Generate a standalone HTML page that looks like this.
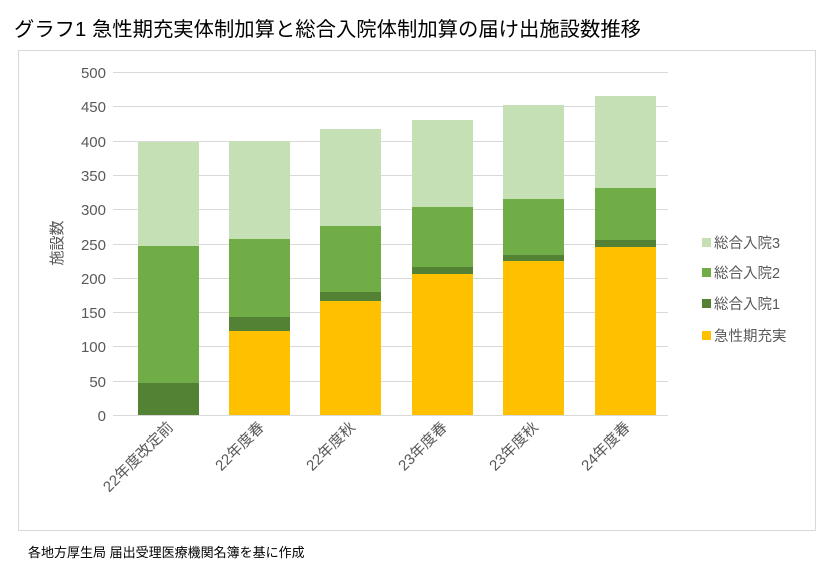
<!DOCTYPE html>
<html><head><meta charset="utf-8"><style>
body{margin:0;background:#fff;width:834px;height:569px;overflow:hidden;font-family:"Liberation Sans","Noto Sans CJK JP",sans-serif}
</style></head><body>
<svg width="834" height="569" xmlns="http://www.w3.org/2000/svg" font-family="Liberation Sans, Noto Sans CJK JP, sans-serif">
<text x="14" y="36" font-size="20" fill="#000" textLength="627" lengthAdjust="spacingAndGlyphs">グラフ1 急性期充実体制加算と総合入院体制加算の届け出施設数推移</text>
<rect x="18.5" y="50.5" width="797" height="480" fill="#fff" stroke="#d9d9d9"/>
<g stroke="#d9d9d9" stroke-width="1">
<line x1="113" x2="668" y1="72.5" y2="72.5"/><line x1="113" x2="668" y1="106.5" y2="106.5"/>
<line x1="113" x2="668" y1="141.5" y2="141.5"/><line x1="113" x2="668" y1="175.5" y2="175.5"/>
<line x1="113" x2="668" y1="209.5" y2="209.5"/><line x1="113" x2="668" y1="244.5" y2="244.5"/>
<line x1="113" x2="668" y1="278.5" y2="278.5"/><line x1="113" x2="668" y1="312.5" y2="312.5"/>
<line x1="113" x2="668" y1="346.5" y2="346.5"/><line x1="113" x2="668" y1="381.5" y2="381.5"/>
<line x1="113" x2="668" y1="415.5" y2="415.5"/>
</g>
<g font-size="15" fill="#595959" text-anchor="end">
<text x="106" y="78">500</text><text x="106" y="112">450</text><text x="106" y="147">400</text>
<text x="106" y="181">350</text><text x="106" y="215">300</text><text x="106" y="250">250</text>
<text x="106" y="284">200</text><text x="106" y="318">150</text><text x="106" y="352">100</text>
<text x="106" y="387">50</text><text x="106" y="421">0</text>
</g>
<text transform="translate(62,243) rotate(-90)" font-size="15" fill="#595959" text-anchor="middle">施設数</text>
<g>
<rect x="138" y="142" width="61" height="104" fill="#c5e0b4"/>
<rect x="138" y="246" width="61" height="137" fill="#70ad47"/>
<rect x="138" y="383" width="61" height="32" fill="#548235"/>

<rect x="229" y="141" width="61" height="98" fill="#c5e0b4"/>
<rect x="229" y="239" width="61" height="78" fill="#70ad47"/>
<rect x="229" y="317" width="61" height="14" fill="#548235"/>
<rect x="229" y="331" width="61" height="84" fill="#ffc000"/>

<rect x="320" y="129" width="61" height="97" fill="#c5e0b4"/>
<rect x="320" y="226" width="61" height="66" fill="#70ad47"/>
<rect x="320" y="292" width="61" height="9" fill="#548235"/>
<rect x="320" y="301" width="61" height="114" fill="#ffc000"/>

<rect x="412" y="120" width="61" height="87" fill="#c5e0b4"/>
<rect x="412" y="207" width="61" height="60" fill="#70ad47"/>
<rect x="412" y="267" width="61" height="7" fill="#548235"/>
<rect x="412" y="274" width="61" height="141" fill="#ffc000"/>

<rect x="503" y="105" width="61" height="94" fill="#c5e0b4"/>
<rect x="503" y="199" width="61" height="56" fill="#70ad47"/>
<rect x="503" y="255" width="61" height="6" fill="#548235"/>
<rect x="503" y="261" width="61" height="154" fill="#ffc000"/>

<rect x="595" y="96" width="61" height="92" fill="#c5e0b4"/>
<rect x="595" y="188" width="61" height="52" fill="#70ad47"/>
<rect x="595" y="240" width="61" height="7" fill="#548235"/>
<rect x="595" y="247" width="61" height="168" fill="#ffc000"/>
</g>
<g font-size="15" fill="#595959" text-anchor="end">
<text transform="translate(174,428) rotate(-45)">22年度改定前</text>
<text transform="translate(265,428) rotate(-45)">22年度春</text>
<text transform="translate(356,428) rotate(-45)">22年度秋</text>
<text transform="translate(448,428) rotate(-45)">23年度春</text>
<text transform="translate(539,428) rotate(-45)">23年度秋</text>
<text transform="translate(631,428) rotate(-45)">24年度春</text>
</g>
<g font-size="14.5" fill="#595959">
<rect x="702" y="238" width="9" height="9" fill="#c5e0b4"/><text x="714" y="248">総合入院3</text>
<rect x="702" y="268" width="9" height="9" fill="#70ad47"/><text x="714" y="278">総合入院2</text>
<rect x="702" y="299" width="9" height="9" fill="#548235"/><text x="714" y="309">総合入院1</text>
<rect x="702" y="331" width="9" height="9" fill="#ffc000"/><text x="714" y="341">急性期充実</text>
</g>
<text x="28" y="557" font-size="13" fill="#000">各地方厚生局 届出受理医療機関名簿を基に作成</text>
</svg>
</body></html>
